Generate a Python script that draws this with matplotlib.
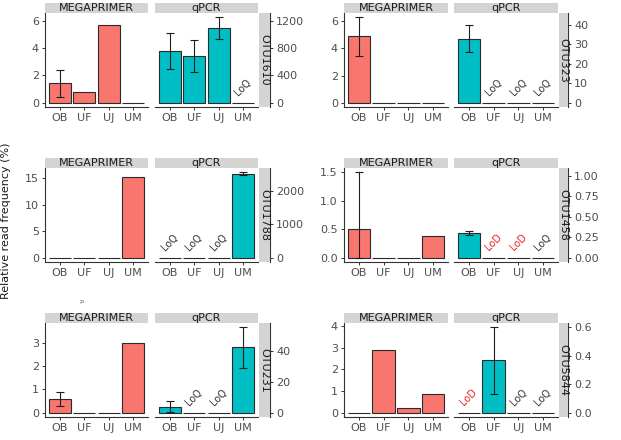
import matplotlib
matplotlib.use("Agg")
import matplotlib.pyplot as plt
from matplotlib.patches import Rectangle
import numpy as np

sites = ["OB", "UF", "UJ", "UM"]
otus = ["OTU1610", "OTU323", "OTU1788", "OTU1458", "OTU231", "OTU5844"]

# MEGAPRIMER relative read frequency (%) and error-bar limits (None = no bar)
mega_OTU1610 = [1.42, 0.82, 5.71, 0.0]
mega_lo_OTU1610 = [0.40, None, None, None]
mega_hi_OTU1610 = [2.40, None, None, None]
mega_OTU323 = [4.90, 0.0, 0.0, 0.0]
mega_lo_OTU323 = [3.48, None, None, None]
mega_hi_OTU323 = [6.30, None, None, None]
mega_OTU1788 = [0.0, 0.0, 0.0, 15.2]
mega_lo_OTU1788 = [None, None, None, None]
mega_hi_OTU1788 = [None, None, None, None]
mega_OTU1458 = [0.50, 0.0, 0.0, 0.39]
mega_lo_OTU1458 = [0.0, None, None, None]
mega_hi_OTU1458 = [1.50, None, None, None]
mega_OTU231 = [0.61, 0.0, 0.0, 3.0]
mega_lo_OTU231 = [0.31, None, None, None]
mega_hi_OTU231 = [0.90, None, None, None]
mega_OTU5844 = [0.0, 2.89, 0.20, 0.88]
mega_lo_OTU5844 = [None, None, None, None]
mega_hi_OTU5844 = [None, None, None, None]

# qPCR values and error-bar limits
qpcr_OTU1610 = [756, 684, 1094, 0]
qpcr_lo_OTU1610 = [491, 444, 935, None]
qpcr_hi_OTU1610 = [1022, 925, 1253, None]
qpcr_OTU323 = [32.8, 0, 0, 0]
qpcr_lo_OTU323 = [25.8, None, None, None]
qpcr_hi_OTU323 = [40.0, None, None, None]
qpcr_OTU1788 = [0, 0, 0, 2530]
qpcr_lo_OTU1788 = [None, None, None, 2490]
qpcr_hi_OTU1788 = [None, None, None, 2570]
qpcr_OTU1458 = [0.30, 0, 0, 0]
qpcr_lo_OTU1458 = [0.28, None, None, None]
qpcr_hi_OTU1458 = [0.33, None, None, None]
qpcr_OTU231 = [4.0, 0, 0, 42.0]
qpcr_lo_OTU231 = [0.4, None, None, 28.6]
qpcr_hi_OTU231 = [7.4, None, None, 55.0]
qpcr_OTU5844 = [0, 0.366, 0, 0]
qpcr_lo_OTU5844 = [None, 0.132, None, None]
qpcr_hi_OTU5844 = [None, 0.598, None, None]

# qPCR limit flags
flags_OTU1610 = ["", "", "", "LoQ"]
flags_OTU323 = ["", "LoQ", "LoQ", "LoQ"]
flags_OTU1788 = ["LoQ", "LoQ", "LoQ", ""]
flags_OTU1458 = ["", "LoD", "LoD", "LoQ"]
flags_OTU231 = ["", "LoQ", "LoQ", ""]
flags_OTU5844 = ["LoD", "", "LoQ", "LoQ"]

# secondary-axis scaling (qPCR units per % unit)
sec_factor = [200, 6.95, 160, 0.694, 15, 0.1517]

# tick labels
left_ticks = [["0", "2", "4", "6"], ["0", "2", "4", "6"], ["0", "5", "10", "15"],
              ["0.0", "0.5", "1.0", "1.5"], ["0", "1", "2", "3"], ["0", "1", "2", "3", "4"]]
right_ticks = [["0", "400", "800", "1200"], ["0", "10", "20", "30", "40"], ["0", "1000", "2000"],
               ["0.00", "0.25", "0.50", "0.75", "1.00"], ["0", "20", "40"], ["0.0", "0.2", "0.4", "0.6"]]

mega = [mega_OTU1610, mega_OTU323, mega_OTU1788, mega_OTU1458, mega_OTU231, mega_OTU5844]
mega_lo = [mega_lo_OTU1610, mega_lo_OTU323, mega_lo_OTU1788, mega_lo_OTU1458, mega_lo_OTU231, mega_lo_OTU5844]
mega_hi = [mega_hi_OTU1610, mega_hi_OTU323, mega_hi_OTU1788, mega_hi_OTU1458, mega_hi_OTU231, mega_hi_OTU5844]
qpcr = [qpcr_OTU1610, qpcr_OTU323, qpcr_OTU1788, qpcr_OTU1458, qpcr_OTU231, qpcr_OTU5844]
qpcr_lo = [qpcr_lo_OTU1610, qpcr_lo_OTU323, qpcr_lo_OTU1788, qpcr_lo_OTU1458, qpcr_lo_OTU231, qpcr_lo_OTU5844]
qpcr_hi = [qpcr_hi_OTU1610, qpcr_hi_OTU323, qpcr_hi_OTU1788, qpcr_hi_OTU1458, qpcr_hi_OTU231, qpcr_hi_OTU5844]
flags = [flags_OTU1610, flags_OTU323, flags_OTU1788, flags_OTU1458, flags_OTU231, flags_OTU5844]

# ---------------- layout / style ----------------
W, H = 621, 440
RED = "#F8766D"
TEAL = "#00BFC4"
EDGE = "#2B2B2B"
AXC = "#333333"
TXT = "#4D4D4D"
STRIP = "#D4D4D4"
FS = 8

cols = [dict(mx0=45, mx1=148, qx0=155, qx1=258, sx1=270),
        dict(mx0=344, mx1=448, qx0=454, qx1=558, sx1=568)]
rows = [dict(st=3, y0=13, y1=107), dict(st=158, y0=168, y1=262), dict(st=313, y0=323, y1=417)]

fig = plt.figure(figsize=(W / 100, H / 100), dpi=100)
fig.patch.set_facecolor("white")


def frect(x0, y0, x1, y1):
    return [x0 / W, 1 - y1 / H, (x1 - x0) / W, (y1 - y0) / H]


def add_rect(x0, y0, x1, y1):
    fig.add_artist(Rectangle((x0 / W, 1 - y1 / H), (x1 - x0) / W, (y1 - y0) / H,
                             transform=fig.transFigure, facecolor=STRIP, edgecolor="none"))


def draw_errors(ax, vals, lo, hi):
    idx = [i for i in range(len(vals)) if lo[i] is not None]
    if not idx:
        return
    y = np.array([vals[i] for i in idx], float)
    el = y - np.array([lo[i] for i in idx], float)
    eh = np.array([hi[i] for i in idx], float) - y
    ax.errorbar(idx, y, yerr=[el, eh], fmt="none", ecolor="#1E1E1E",
                elinewidth=0.8, capsize=2.6, capthick=0.8, zorder=4)


def style_ax(ax):
    ax.set_facecolor("white")
    ax.set_xlim(-0.6, 3.6)
    ax.set_xticks(range(len(sites)))
    ax.set_xticklabels(sites)
    ax.tick_params(axis="both", direction="out", length=2.4, width=0.7, color=AXC,
                   labelcolor=TXT, labelsize=FS, pad=2)
    for s in ["top", "right", "left", "bottom"]:
        ax.spines[s].set_visible(False)
    ax.spines["bottom"].set_visible(True)
    ax.spines["bottom"].set_color(AXC)
    ax.spines["bottom"].set_linewidth(0.8)


x = np.arange(len(sites))
for k, otu in enumerate(otus):
    r = rows[k // 2]
    c = cols[k % 2]
    f = sec_factor[k]

    # shared y range like ggplot (5% expansion)
    cand = [0.0] + list(mega[k]) + [v for v in mega_hi[k] if v is not None]
    cand += [v / f for v in qpcr[k]] + [v / f for v in qpcr_hi[k] if v is not None]
    ymax = max(cand)
    ylo, yhi = -0.05 * ymax, 1.05 * ymax

    # MEGAPRIMER facet
    axm = fig.add_axes(frect(c["mx0"], r["y0"], c["mx1"], r["y1"]))
    axm.bar(x, mega[k], width=0.9, color=RED, edgecolor=EDGE, linewidth=0.8, zorder=3)
    draw_errors(axm, mega[k], mega_lo[k], mega_hi[k])
    style_ax(axm)
    axm.set_ylim(ylo, yhi)
    axm.spines["left"].set_visible(True)
    axm.spines["left"].set_color(AXC)
    axm.spines["left"].set_linewidth(0.8)
    lt = left_ticks[k]
    axm.set_yticks([float(t) for t in lt])
    axm.set_yticklabels(lt)

    # qPCR facet
    axq = fig.add_axes(frect(c["qx0"], r["y0"], c["qx1"], r["y1"]))
    axq.bar(x, qpcr[k], width=0.9, color=TEAL, edgecolor=EDGE, linewidth=0.8, zorder=3)
    draw_errors(axq, qpcr[k], qpcr_lo[k], qpcr_hi[k])
    style_ax(axq)
    axq.set_ylim(ylo * f, yhi * f)
    axq.spines["right"].set_visible(True)
    axq.spines["right"].set_color(AXC)
    axq.spines["right"].set_linewidth(0.8)
    axq.spines["right"].set_position(("outward", (c["sx1"] - c["qx1"]) * 0.72))
    axq.yaxis.tick_right()
    rt = right_ticks[k]
    axq.set_yticks([float(t) for t in rt])
    axq.set_yticklabels(rt)

    for i, fl in enumerate(flags[k]):
        if fl:
            axq.annotate(fl, (i, 0), xytext=(0, 3.5), textcoords="offset points",
                         ha="center", va="bottom", rotation=45, fontsize=7,
                         color="#E8262A" if fl == "LoD" else "#333333", zorder=5)

    # facet strips
    add_rect(c["mx0"], r["st"], c["mx1"], r["y0"])
    add_rect(c["qx0"], r["st"], c["qx1"], r["y0"])
    fig.text((c["mx0"] + c["mx1"]) / 2 / W, 1 - (r["st"] + r["y0"]) / 2 / H, "MEGAPRIMER",
             ha="center", va="center", fontsize=FS, color="#1A1A1A")
    fig.text((c["qx0"] + c["qx1"]) / 2 / W, 1 - (r["st"] + r["y0"]) / 2 / H, "qPCR",
             ha="center", va="center", fontsize=FS, color="#1A1A1A")
    add_rect(c["qx1"] + 1, r["y0"], c["sx1"], r["y1"])
    fig.text((c["qx1"] + 1 + c["sx1"]) / 2 / W, 1 - (r["y0"] + r["y1"]) / 2 / H, otu,
             ha="center", va="center", rotation=-90, fontsize=FS, color="#1A1A1A")

fig.text(6 / W, 1 - 221 / H, "Relative read frequency (%)", rotation=90,
         ha="center", va="center", fontsize=8, color="#1A1A1A")
fig.text(80 / W, 1 - 301 / H, "R", rotation=-90, ha="center", va="center",
         fontsize=4, color="#555555")

fig.savefig("out.png", dpi=100, facecolor="white")
